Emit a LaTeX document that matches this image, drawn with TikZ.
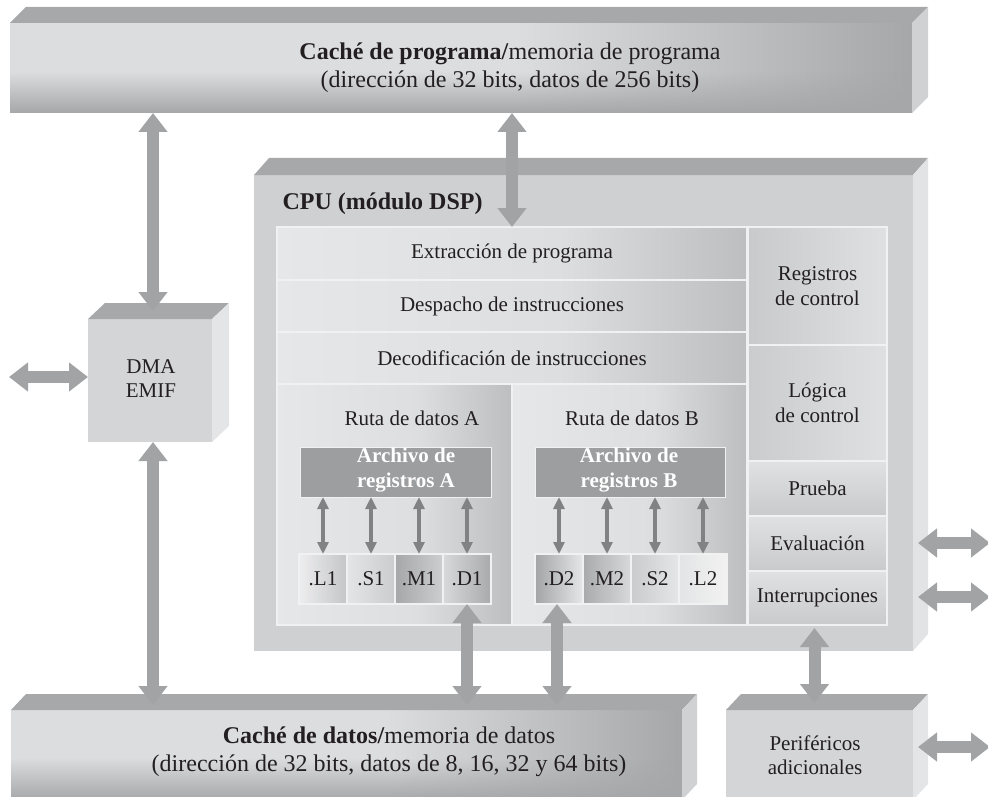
\documentclass[tikz,border=0pt]{standalone}
\usepackage{fontspec}
\setmainfont{Liberation Serif}
\usetikzlibrary{arrows.meta,fadings,calc}

\definecolor{topc}{HTML}{A7A8AA}
\definecolor{frontc}{HTML}{DCDDDF}
\definecolor{darkc}{HTML}{A6A7A9}
\definecolor{barside}{HTML}{D0D1D3}
\definecolor{cpuc}{HTML}{CFD0D2}
\definecolor{cpuside}{HTML}{E2E3E4}
\definecolor{boxc}{HTML}{D4D5D7}
\definecolor{boxside}{HTML}{E4E5E6}
\definecolor{arrc}{HTML}{A2A3A5}
\definecolor{sarrc}{HTML}{818284}
\definecolor{regc}{HTML}{9D9EA0}
\definecolor{txtc}{HTML}{231F20}
\definecolor{rowl}{HTML}{E6E7E8}
\definecolor{rowm}{HTML}{DDDEE0}
\definecolor{rowd}{HTML}{BDBEC0}
\definecolor{linec}{HTML}{F1F1F2}
\definecolor{g9}{HTML}{C9CACC}
\definecolor{gb}{HTML}{CBCCCE}
\definecolor{ge}{HTML}{DFE0E1}
\definecolor{ge2}{HTML}{E0E1E2}
\definecolor{u1}{HTML}{EEEEEF}
\definecolor{u2}{HTML}{C4C5C7}
\definecolor{u3}{HTML}{E4E5E6}
\definecolor{u4}{HTML}{A6A7A9}
\definecolor{u5}{HTML}{CDCECF}
\definecolor{u6}{HTML}{D8D9DA}
\definecolor{u7}{HTML}{A9AAAC}
\definecolor{u8}{HTML}{A3A4A6}
\definecolor{u9}{HTML}{E6E7E8}
\definecolor{u10}{HTML}{CACBCD}
\definecolor{u11}{HTML}{E5E6E7}
\definecolor{u12}{HTML}{E3E4E5}
\definecolor{u13}{HTML}{F2F2F2}

\pgfdeclarehorizontalshading{barH}{100bp}{color(0bp)=(frontc); color(25bp)=(frontc); color(53bp)=(frontc); color(75bp)=(darkc); color(100bp)=(darkc)}
\pgfdeclarehorizontalshading{rowH}{100bp}{color(0bp)=(rowl); color(25bp)=(rowl); color(55bp)=(rowm); color(75bp)=(rowd); color(100bp)=(rowd)}
\tikzfading[name=fadeup, top color=transparent!100, bottom color=transparent!0]

\newcommand\drawfaces[4]{%
  \fill[topc] (#1.north west) -- ++(#2,-#3) -- ($(#1.north east)+(#2,-#3)$) -- (#1.north east) -- cycle;
  \fill[#4] (#1.north east) -- ++(#2,-#3) -- ($(#1.south east)+(#2,-#3)$) -- (#1.south east) -- cycle;}

\begin{document}
\begin{tikzpicture}[x=1pt,y=-1pt,
  font=\fontsize{21}{25}\selectfont, text=txtc,
  face/.style={inner sep=0pt, outer sep=0pt, anchor=north west},
  big/.style={arrc, line width=12pt, {Triangle[length=19pt,width=28pt]}-{Triangle[length=19pt,width=28pt]}},
  small/.style={sarrc, line width=3.5pt, {Triangle[length=12pt,width=11pt]}-{Triangle[length=12pt,width=11pt]}},
  blk/.style={face, draw=linec, line width=1.5pt},
  rowblk/.style={blk, shade, shading=rowH},
  colblk/.style={blk, top color=ge2, bottom color=g9},
  unit/.style={blk, minimum width=48pt, minimum height=50pt},
  title/.style={font=\fontsize{24}{28}\selectfont, align=center},
  regfile/.style={face, fill=regc, draw=linec, line width=1pt, minimum width=#1, minimum height=50pt},
  regtxt/.style={text=white, font=\fontsize{21}{25}\selectfont\bfseries, align=center}]

\useasboundingbox (0,0) rectangle (988,797);

% ---------- program cache bar ----------
\node[face, shade, shading=barH, minimum width=902pt, minimum height=90pt] (pbar) at (10,23) {};
\fill[darkc, path fading=fadeup] (10,72) rectangle (912,113);
\drawfaces{pbar}{16}{16}{barside}
\node[title] (ptxt) at (510,68) {\textbf{Caché de programa/}memoria de programa\\(dirección de 32 bits, datos de 256 bits)};

% ---------- data cache bar ----------
\node[face, shade, shading=barH, minimum width=671pt, minimum height=90pt] (dbar) at (11,710) {};
\fill[darkc, path fading=fadeup] (11,758) rectangle (682,800);
\drawfaces{dbar}{15}{16}{barside}
\node[title] (dtxt) at (389,752) {\textbf{Caché de datos/}memoria de datos\\(dirección de 32 bits, datos de 8, 16, 32 y 64 bits)};

% ---------- DMA ----------
\node[face, fill=boxc, minimum width=124pt, minimum height=123pt] (dma) at (88,319) {};
\drawfaces{dma}{17}{16}{boxside}
\node[align=center, font=\fontsize{21}{24}\selectfont] (dmatxt) at (151,379) {DMA\\EMIF};

% ---------- Perifericos ----------
\node[face, fill=boxc, minimum width=187pt, minimum height=90pt] (peri) at (726,710) {};
\drawfaces{peri}{15}{16}{boxside}
\node[align=center, font=\fontsize{21}{24}\selectfont] (peritxt) at (815,755) {Periféricos\\adicionales};

% ---------- CPU ----------
\node[face, fill=cpuc, minimum width=659pt, minimum height=476pt] (cpu) at (254,175) {};
\drawfaces{cpu}{15}{17}{cpuside}
\node[anchor=west, font=\fontsize{24}{28}\selectfont\bfseries] (cputxt) at (279,204) {CPU (módulo DSP)};

% pipeline rows
\node[rowblk, minimum width=470pt, minimum height=53pt] (extr) at (277,227) {Extracción de programa};
\node[rowblk, minimum width=470pt, minimum height=52pt] (desp) at (277,280) {Despacho de instrucciones};
\node[rowblk, minimum width=470pt, minimum height=52pt] (deco) at (277,332) {Decodificación de instrucciones};

% right column
\node[blk, left color=g9, right color=ge, minimum width=139pt, minimum height=118pt, align=center] (regs) at (748,227) {Registros\\de control};
\node[blk, left color=gb, right color=ge, minimum width=139pt, minimum height=116pt, align=center] (logi) at (748,345) {Lógica\\de control};
\node[colblk, minimum width=139pt, minimum height=55pt] (prue) at (748,461) {Prueba};
\node[colblk, minimum width=139pt, minimum height=55pt] (eval) at (748,516) {Evaluación};
\node[colblk, minimum width=139pt, minimum height=54pt] (intr) at (748,571) {Interrupciones};

% data paths
\node[rowblk, minimum width=235pt, minimum height=241pt] (rutaA) at (277,384) {};
\node[rowblk, minimum width=235pt, minimum height=241pt] (rutaB) at (512,384) {};
\node (rutaAtxt) at (412,418) {Ruta de datos A};
\node (rutaBtxt) at (632,418) {Ruta de datos B};

\node[regfile=191pt] (archA) at (300,447) {};
\node[regfile=190pt] (archB) at (535,447) {};
\node[regtxt] (archAtxt) at (406,470) {Archivo de\\registros A};
\node[regtxt] (archBtxt) at (629,470) {Archivo de\\registros B};

\node[unit, left color=u1, right color=u2] (uL1) at (299,554) {.L1};
\node[unit, left color=u3, right color=gb] (uS1) at (347,554) {.S1};
\node[unit, left color=u4, right color=u5] (uM1) at (395,554) {.M1};
\node[unit, left color=u6, right color=u7] (uD1) at (443,554) {.D1};
\node[unit, left color=u8, right color=u9] (uD2) at (535,554) {.D2};
\node[unit, left color=u7, right color=u6] (uM2) at (583,554) {.M2};
\node[unit, left color=u10, right color=u11] (uS2) at (631,554) {.S2};
\node[unit, left color=u12, right color=u13] (uL2) at (679,554) {.L2};

% small arrows
\foreach \u/\a in {uL1/archA, uS1/archA, uM1/archA, uD1/archA, uD2/archB, uM2/archB, uS2/archB, uL2/archB}
  \draw[small] (\u.north |- \a.south) -- (\u.north);

% ---------- big arrows ----------
\coordinate (dmatop) at ($(dma.north)+(3,-8)$);
\draw[big] (pbar.south -| dmatop) -- (dmatop);
\draw[big] (dma.south -| dmatop) -- ($(dbar.north -| dmatop)+(0,-5)$);
\coordinate (lend) at (9,377);
\draw[big] (lend) -- (lend -| dma.west);
\draw[big] (pbar.south -| extr.north) -- (extr.north);
\draw[big] (uD1.south) -- ($(dbar.north -| uD1.south)+(0,-5)$);
\draw[big] ($(uD2.south)+(-2,0)$) -- ($(dbar.north -| uD2.south)+(-2,-5)$);
\draw[big] ($(intr.south)+(-3,3)$) -- ($(peri.north -| intr.south)+(-3,-7)$);
\coordinate (er) at (990,543);
\coordinate (ir) at (990,597);
\coordinate (pr) at (990,747);
\draw[big] ($(cpu.east |- er)+(5,0)$) -- (er);
\draw[big] ($(cpu.east |- ir)+(5,0)$) -- (ir);
\draw[big] ($(peri.east |- pr)+(5,0)$) -- (pr);
\end{tikzpicture}
\end{document}
